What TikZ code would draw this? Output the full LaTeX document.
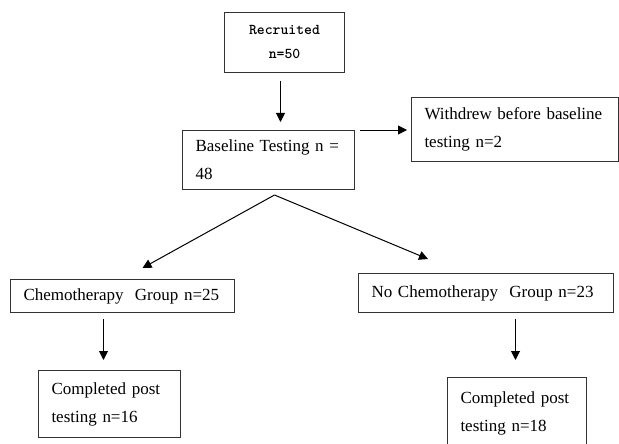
\documentclass[tikz,border=0pt]{standalone}
\usepackage{fontspec}
\setmainfont{Liberation Serif}
\usetikzlibrary{arrows.meta,positioning,calc}

\tikzset{
  box/.style={draw=black!80, line width=1pt, anchor=north west, inner xsep=13pt,
    inner ysep=0pt, align=left, font=\fontsize{17}{28}\selectfont},
  arr/.style={-{Triangle[length=9pt,width=9pt]}, line width=1pt},
}

\begin{document}
\begin{tikzpicture}[x=1pt, y=-1pt]
  \useasboundingbox (0,0) rectangle (619,444);

  % boxes
  \node[box, text width=94pt, minimum height=60pt, align=center,
        font=\ttfamily\bfseries\fontsize{15}{24}\selectfont] (rec) at (224,12) {Recruited\\n=50};
  \node[box, text width=146pt, minimum height=59pt] (base) at (182,130) {Baseline Testing n =\\48};
  \node[box, text width=181pt, minimum height=64pt] (withdrew) at (411,97) {Withdrew before baseline\\testing n=2};
  \node[box, text width=198pt, minimum height=33pt] (chemo) at (10,279) {Chemotherapy\ \ Group n=25};
  \node[box, text width=229pt, minimum height=39pt] (nochemo) at (358,273) {No Chemotherapy\ \ Group n=23};
  \node[box, text width=116pt, minimum height=67pt] (done1) at (38,370) {Completed post\\testing n=16};
  \node[box, text width=113pt, minimum height=72pt] (done2) at (447,377) {Completed post\\testing n=18};

  % connectors
  \draw[arr, shorten <=8pt, shorten >=8pt] ([xshift=-4pt]rec.south) -- ([xshift=-4pt]rec.south |- base.north);
  \draw[arr, shorten <=5pt, shorten >=4pt] (base.north east) -- (base.north east -| withdrew.west);
  \coordinate (split) at ([xshift=6pt,yshift=-5pt]base.south);
  \draw[arr] (split) -- ($(chemo.north)+(20pt,11pt)$);
  \draw[arr] (split) -- ($(nochemo.north)+(-58pt,14pt)$);
  \draw[arr, shorten <=6pt, shorten >=10pt] ([xshift=-19pt]chemo.south) -- ([xshift=-19pt]chemo.south |- done1.north);
  \draw[arr, shorten <=6pt, shorten >=17pt] ([xshift=29.5pt]nochemo.south) -- ([xshift=29.5pt]nochemo.south |- done2.north);
\end{tikzpicture}
\end{document}
